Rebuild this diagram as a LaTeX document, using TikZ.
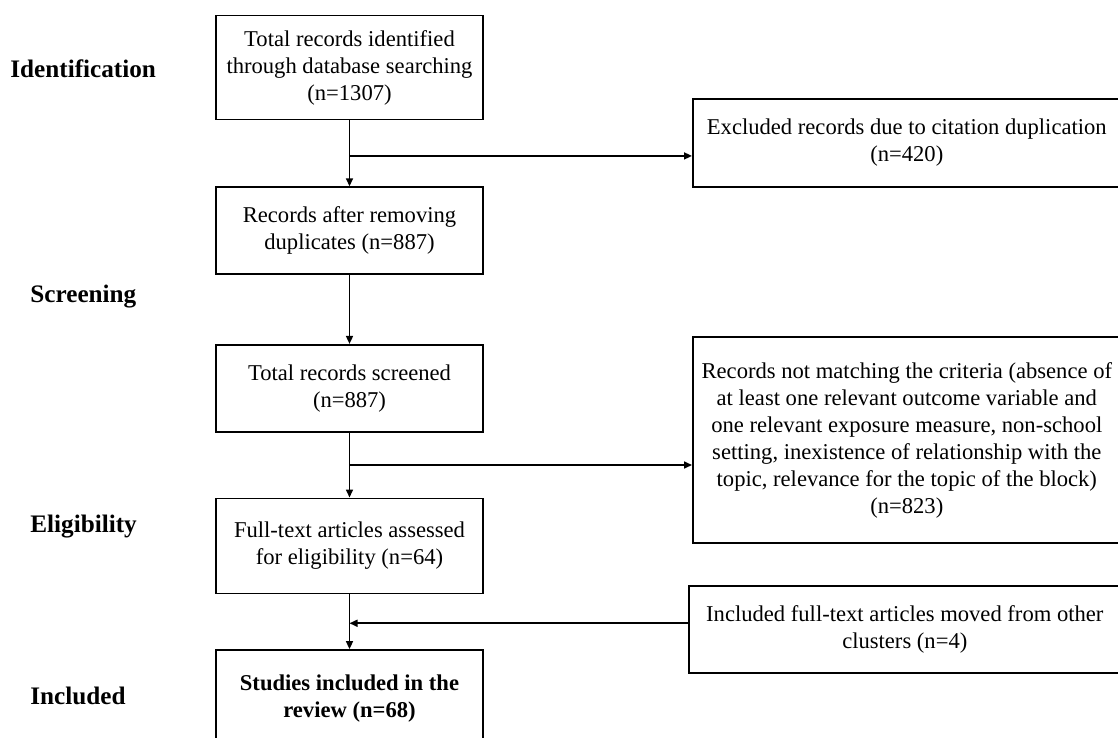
\documentclass[tikz,border=0pt]{standalone}
\usepackage{fontspec}
\setmainfont{Liberation Serif}
\usetikzlibrary{arrows.meta,positioning,calc}

\begin{document}
\begin{tikzpicture}[
  x=0.5pt, y=-0.5pt,
  stage/.style={draw, line width=0.8pt, align=center, minimum width=133.5pt, inner sep=2pt, font=\fontsize{11.3}{13.5}\selectfont},
  side/.style={draw, line width=0.8pt, align=center, anchor=west, inner sep=2pt, font=\fontsize{11.3}{13.5}\selectfont},
  phase/.style={anchor=west, inner sep=0pt, font=\bfseries\fontsize{12.6}{15}\selectfont},
  edge/.style={-{Triangle[length=4pt, width=3.5pt]}, line width=0.8pt}
]
\useasboundingbox (0,0) rectangle (1118,738);
\clip (0,0) rectangle (1118,738);

\node[stage, minimum height=52pt] (ident) at (349.5,67.5) {Total records identified\\through database searching\\(n=1307)};
\node[stage, minimum height=43.5pt, below=33pt of ident] (dedup) {Records after removing\\duplicates (n=887)};
\node[stage, minimum height=43.5pt, below=34.5pt of dedup] (screen) {Total records screened\\(n=887)};
\node[stage, minimum height=47.5pt, below=32.5pt of screen] (full) {Full-text articles assessed\\for eligibility (n=64)};
\node[stage, minimum height=49pt, below=27.5pt of full, font=\bfseries\fontsize{11.3}{13.5}\selectfont] (incl) {Studies included in the\\review (n=68)};

\node[side, minimum width=214pt, minimum height=44pt] (dup) at (692,143) {Excluded records due to citation duplication\\(n=420)};
\node[side, minimum width=214pt, minimum height=103pt] (crit) at (692,440) {Records not matching the criteria (absence of\\at least one relevant outcome variable and\\one relevant exposure measure, non-school\\setting, inexistence of relationship with the\\topic, relevance for the topic of the block)\\(n=823)};
\node[side, minimum width=216pt, minimum height=43.5pt] (moved) at (688,629.5) {Included full-text articles moved from other\\clusters (n=4)};

\node[phase] (lblident) at (10,69) {Identification};
\node[phase] (lblscreen) at (30,297) {Screening};
\node[phase] (lblelig) at (30,527) {Eligibility};
\node[phase] (lblincl) at (30,696) {Included};

\coordinate (fork1) at ($(ident.south)!0.54!(dedup.north)$);
\coordinate (fork2) at ($(screen.south)!0.5!(full.north)$);
\coordinate (fork3) at ($(full.south)!0.53!(incl.north)$);

\draw[edge] (ident) -- (dedup);
\draw[edge] (fork1) -- (fork1 -| dup.west);
\draw[edge] (dedup) -- (screen);
\draw[edge] (screen) -- (full);
\draw[edge] (fork2) -- (fork2 -| crit.west);
\draw[edge] (full) -- (incl);
\draw[edge] (fork3 -| moved.west) -- (fork3);
\end{tikzpicture}
\end{document}
